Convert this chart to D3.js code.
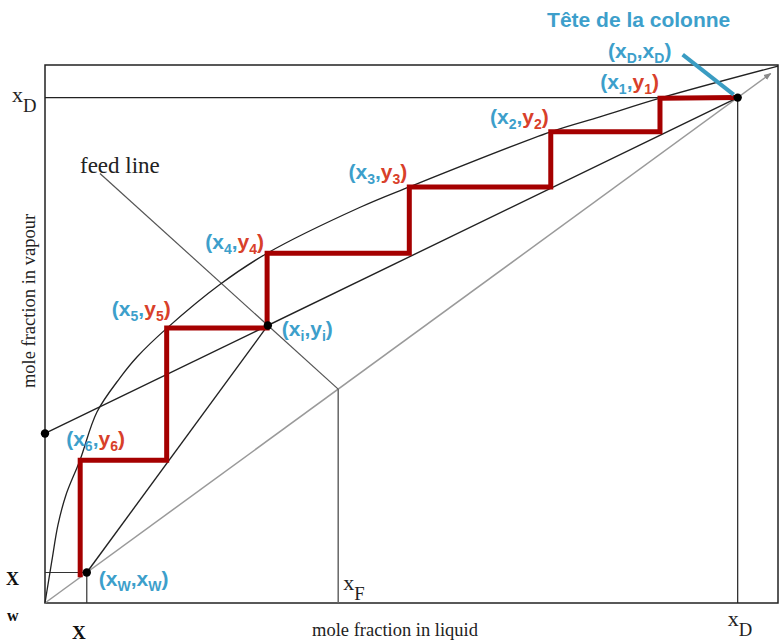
<!DOCTYPE html>
<html>
<head>
<meta charset="utf-8">
<script src="https://cdn.jsdelivr.net/npm/d3@7/dist/d3.min.js"></script>
<style>
  html, body { margin: 0; padding: 0; background: #fff; }
  svg { display: block; }
</style>
</head>
<body>
<svg id="chart" width="780" height="644"></svg>
<script>
// McCabe-Thiele construction: equilibrium curve, operating lines, feed line and stages

// Equilibrium curve (liquid fraction, vapour fraction)
const eqX = [0, 0.004, 0.0095, 0.0177, 0.0286, 0.0477, 0.0709, 0.1023, 0.1255, 0.1664, 0.239, 0.303, 0.43, 0.497, 0.690, 0.757, 0.839, 1];
const eqY = [0, 0.034, 0.080, 0.146, 0.202, 0.267, 0.357, 0.421, 0.460, 0.514, 0.596, 0.654, 0.740, 0.778, 0.881, 0.909, 0.944, 1.004];

// Theoretical stages read on the equilibrium curve
const stageNames = ["1", "2", "3", "4", "5", "6"];
const stageX = [0.839, 0.690, 0.497, 0.303, 0.166, 0.048];
const stageY = [0.944, 0.881, 0.778, 0.654, 0.514, 0.267];

// Compositions
const xD = 0.945;            // distillate
const xW = 0.057;            // bottoms
const xF = 0.40;             // feed
const rectIntercept = 0.317; // xD / (R + 1)
const feedStartX = 0.075;    // upper end of the drawn feed line
const feedSlope = -1.24;     // q / (q - 1)

const svg = d3.select("#chart");
const x = d3.scaleLinear().domain([0, 1]).range([45, 778]);
const y = d3.scaleLinear().domain([0, 1.006]).range([603, 65]);

const line = d3.line().x(d => x(d[0])).y(d => y(d[1]));

// Operating-line intersection
const rectSlope = (xD - rectIntercept) / xD;
const xi = (xF - feedSlope * xF - rectIntercept) / (rectSlope - feedSlope);
const yi = rectIntercept + rectSlope * xi;

const blue = "#3d9fcb";
const red = "#d8402a";

svg.append("defs").append("marker")
  .attr("id", "arrow").attr("viewBox", "0 0 10 10")
  .attr("refX", 9).attr("refY", 5)
  .attr("markerWidth", 5).attr("markerHeight", 5)
  .attr("orient", "auto")
  .append("path").attr("d", "M0,1 L10,5 L0,9 Z").attr("fill", "#8a8a8a");

// Frame
svg.append("rect")
  .attr("x", x(0)).attr("y", y(1.006))
  .attr("width", x(1) - x(0)).attr("height", y(0) - y(1.006))
  .attr("fill", "none").attr("stroke", "#222").attr("stroke-width", 1.5);

// Diagonal y = x
svg.append("path").attr("d", line([[0, 0], [0.99, 0.99]]))
  .attr("stroke", "#9a9a9a").attr("stroke-width", 1.5).attr("fill", "none")
  .attr("marker-end", "url(#arrow)");

// Guide lines at xD, xF, xW
svg.append("path").attr("d", line([[0, xD], [xD, xD], [xD, 0]]))
  .attr("stroke", "#222").attr("stroke-width", 1.2).attr("fill", "none");
svg.append("path").attr("d", line([[xF, xF], [xF, 0]]))
  .attr("stroke", "#666").attr("stroke-width", 1.5).attr("fill", "none");
svg.append("path").attr("d", line([[0, xW], [xW, xW], [xW, 0]]))
  .attr("stroke", "#333").attr("stroke-width", 1.2).attr("fill", "none");

// Feed line
svg.append("path")
  .attr("d", line([[feedStartX, xF + feedSlope * (feedStartX - xF)], [xF, xF]]))
  .attr("stroke", "#555").attr("stroke-width", 1.2).attr("fill", "none");

// Equilibrium curve
svg.append("path")
  .attr("d", d3.line().x(d => x(d[0])).y(d => y(d[1])).curve(d3.curveCatmullRom.alpha(0.5))(eqX.map((v, i) => [v, eqY[i]])))
  .attr("stroke", "#222").attr("stroke-width", 1.3).attr("fill", "none");

// Rectifying and stripping operating lines
svg.append("path").attr("d", line([[0, rectIntercept], [xD, xD]]))
  .attr("stroke", "#222").attr("stroke-width", 1.4).attr("fill", "none");
svg.append("path").attr("d", line([[xW, xW], [xi, yi]]))
  .attr("stroke", "#222").attr("stroke-width", 1.4).attr("fill", "none");

// Stage staircase
const steps = [[xD, xD]];
stageX.forEach((sx, i) => {
  steps.push([sx, stageY[i]]);
  const next = i + 1 < stageY.length ? stageY[i + 1] : sx;
  steps.push([sx, next]);
});
svg.append("path").attr("d", line(steps))
  .attr("stroke", "#a50000").attr("stroke-width", 5).attr("fill", "none")
  .attr("stroke-linejoin", "miter");

// Points
const dots = [[xD, xD], [xW, xW], [xi, yi], [0, rectIntercept]];
svg.selectAll("circle.pt").data(dots).join("circle")
  .attr("cx", d => x(d[0])).attr("cy", d => y(d[1])).attr("r", 4.2).attr("fill", "#000");

// Pointer to the column head
svg.append("line")
  .attr("x1", x(xD) - 55).attr("y1", y(xD) - 43)
  .attr("x2", x(xD) - 4).attr("y2", y(xD) - 3)
  .attr("stroke", "#3a9cc2").attr("stroke-width", 4);

// Coordinate labels with subscripts
function coordLabel(px, py, anchor, parts) {
  const t = svg.append("text")
    .attr("x", px).attr("y", py).attr("text-anchor", anchor)
    .attr("font-family", "Liberation Sans, Arial, sans-serif")
    .attr("font-weight", "bold").attr("font-size", 21);
  parts.forEach(p => {
    const s = t.append("tspan").attr("fill", p.c).text(p.t);
    if (p.sub) s.attr("font-size", 14).attr("dy", 5);
    if (p.up) s.attr("dy", -5);
  });
}
function pairLabel(px, py, anchor, a, sa, ca, b, sb, cb) {
  coordLabel(px, py, anchor, [
    { t: "(", c: blue }, { t: a, c: ca }, { t: sa, c: ca, sub: true },
    { t: ",", c: blue, up: true }, { t: b, c: cb }, { t: sb, c: cb, sub: true },
    { t: ")", c: cb === red ? red : blue, up: true }
  ]);
}

const labelOffsets = [[-1, -9, "end"], [-2, -8, "end"], [-2, -8, "end"], [-3, -4, "end"], [4, -12, "end"], [-14, -14, "start"]];
stageX.forEach((sx, i) => {
  const o = labelOffsets[i];
  pairLabel(x(sx) + o[0], y(stageY[i]) + o[1], o[2], "x", stageNames[i], blue, "y", stageNames[i], red);
});
pairLabel(x(xi) + 14, y(yi) + 11, "start", "x", "i", blue, "y", "i", blue);
pairLabel(x(xW) + 12, y(xW) + 13, "start", "x", "W", blue, "x", "W", blue);
pairLabel(x(xD) - 98, y(xD) - 40, "middle", "x", "D", blue, "x", "D", blue);

svg.append("text")
  .attr("x", x(xD) - 99).attr("y", 27).attr("text-anchor", "middle")
  .attr("font-family", "Liberation Sans, Arial, sans-serif")
  .attr("font-weight", "bold").attr("font-size", 21).attr("fill", blue)
  .text("Tête de la colonne");

// Serif annotations
const serif = "Liberation Serif, Times New Roman, serif";
function subText(px, py, main, sub, size, anchor) {
  const t = svg.append("text").attr("x", px).attr("y", py)
    .attr("font-family", serif).attr("font-size", size).attr("fill", "#222")
    .attr("text-anchor", anchor || "start");
  t.append("tspan").text(main);
  t.append("tspan").attr("dy", size * 0.45).attr("font-size", size * 0.85).text(sub);
}
subText(x(0) - 33, y(xD) + 4, "x", "D", 22);
subText(x(xD) - 10, 626, "x", "D", 22);
subText(x(xF) + 5, 590, "x", "F", 22);

svg.append("text").attr("x", 80).attr("y", 173)
  .attr("font-family", serif).attr("font-size", 23).attr("fill", "#222")
  .text("feed line");

svg.append("text").attr("x", 395).attr("y", 636).attr("text-anchor", "middle")
  .attr("font-family", serif).attr("font-size", 18.5).attr("fill", "#222")
  .text("mole fraction in liquid");

svg.append("text")
  .attr("transform", "translate(35,301) rotate(-90)").attr("text-anchor", "middle")
  .attr("font-family", serif).attr("font-size", 18.5).attr("fill", "#222")
  .text("mole fraction in vapour");

// Bottoms composition marks
const boldSerif = { "font-family": serif, "font-weight": "bold", "fill": "#111" };
function put(px, py, txt, size) {
  const t = svg.append("text").attr("x", px).attr("y", py).attr("font-size", size).text(txt);
  Object.entries(boldSerif).forEach(([k, v]) => t.attr(k, v));
}
put(6, 585, "X", 18);
put(7, 621, "w", 16);
put(72, 639, "X", 19);
</script>
</body>
</html>
